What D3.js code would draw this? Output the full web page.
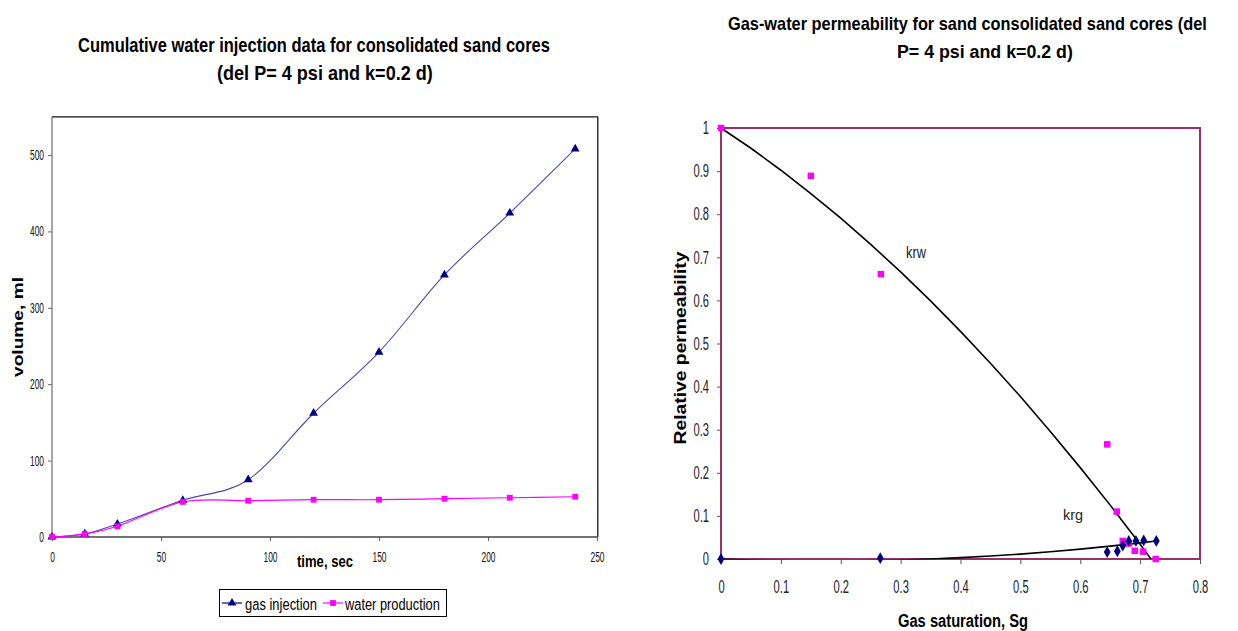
<!DOCTYPE html>
<html><head><meta charset="utf-8">
<script src="https://cdn.jsdelivr.net/npm/d3@7"></script>
<style>body{margin:0;background:#fff}svg{display:block}text{font-family:"Liberation Sans",Arial,Helvetica,sans-serif}</style>
</head><body>
<script>
// ---------- Left chart data ----------
const timeSec = [0, 15, 30, 60, 90, 120, 150, 180, 210, 240];
const gasInjection = [0, 4, 17, 48, 75, 162, 242, 343, 424, 508];
const waterProduction = [0, 4, 14, 46, 47.5, 48.8, 48.8, 50.1, 51.4, 52.7];
const volumeTicks = [0, 100, 200, 300, 400, 500];
const timeTicks = [0, 50, 100, 150, 200, 250];
const leftSeries = ["gas injection", "water production"];

// ---------- Right chart data ----------
const krwSg = [0, 0.15, 0.267, 0.645, 0.661, 0.671, 0.681, 0.691, 0.705, 0.726];
const krwVal = [1, 0.889, 0.661, 0.266, 0.110, 0.042, 0.036, 0.019, 0.017, 0.0];
const krgSg = [0, 0.266, 0.645, 0.662, 0.671, 0.681, 0.693, 0.706, 0.727];
const krgVal = [0, 0.002, 0.016, 0.018, 0.031, 0.042, 0.042, 0.043, 0.042];
// trend curves
const krwCurveSg = [0, 0.05, 0.1, 0.15, 0.2, 0.25, 0.3, 0.35, 0.4, 0.45, 0.5, 0.55, 0.6, 0.65, 0.7, 0.718];
const krwCurveVal = [1, 0.953, 0.902, 0.848, 0.791, 0.730, 0.666, 0.599, 0.528, 0.454, 0.377, 0.296, 0.212, 0.125, 0.034, 0.0003];
const krgCurveSg = [0, 0.05, 0.1, 0.15, 0.2, 0.25, 0.3, 0.35, 0.4, 0.45, 0.5, 0.55, 0.6, 0.65, 0.7, 0.727];
const krgCurveVal = [0, -0.0023, -0.0038, -0.0046, -0.0046, -0.0038, -0.0023, 0, 0.0031, 0.0069, 0.0114, 0.0168, 0.0229, 0.0298, 0.0374, 0.0418];
const relPermTicks = [0, 0.1, 0.2, 0.3, 0.4, 0.5, 0.6, 0.7, 0.8, 0.9, 1];
const sgTicks = [0, 0.1, 0.2, 0.3, 0.4, 0.5, 0.6, 0.7, 0.8];

const W = 1238, H = 631;
const svg = d3.select("body").append("svg").attr("width", W).attr("height", H);
svg.append("rect").attr("width", W).attr("height", H).attr("fill", "#fff");

function squeeze(sel, f) {
  sel.each(function () {
    const L = this.getComputedTextLength();
    d3.select(this).attr("textLength", L * f).attr("lengthAdjust", "spacingAndGlyphs");
  });
}
// horizontal text, compressed to a target width by a scale transform
function label(g, x, y, str, width, size, bold, fill) {
  const t = g.append("text").attr("font-size", size).attr("font-weight", bold ? "bold" : "normal")
    .attr("fill", fill || "#000").text(str);
  const L = t.node().getComputedTextLength();
  t.attr("transform", `translate(${x},${y}) scale(${width / L},1)`);
  return t;
}
function fitText(sel, len) {
  sel.attr("textLength", len).attr("lengthAdjust", "spacingAndGlyphs");
}

// ================= LEFT CHART =================
const xL = d3.scaleLinear().domain([0, 250]).range([52, 597]);
const yL = d3.scaleLinear().domain([0, 550]).range([537, 116.8]);

const L = svg.append("g");
label(L, 78, 51.5, "Cumulative water injection data for consolidated sand cores", 472, 20, true);
label(L, 217, 79.5, "(del P= 4 psi and k=0.2 d)", 216, 20, true);

// plot frame
L.append("line").attr("x1", xL(0)).attr("x2", xL(250) + 1).attr("y1", yL(550)).attr("y2", yL(550)).attr("stroke", "#111").attr("stroke-width", 1.2);
L.append("line").attr("x1", xL(250) + 0.5).attr("x2", xL(250) + 0.5).attr("y1", yL(550)).attr("y2", yL(0)).attr("stroke", "#333").attr("stroke-width", 1);
L.append("line").attr("x1", xL(250) + 1.5).attr("x2", xL(250) + 1.5).attr("y1", yL(550)).attr("y2", yL(0)).attr("stroke", "#999").attr("stroke-width", 1);

// axes
const yAxL = L.append("g").attr("transform", `translate(${xL(0)},0)`)
  .call(d3.axisLeft(yL).tickValues(volumeTicks).tickSize(4).tickPadding(4).tickFormat(d => String(d)));
const xAxL = L.append("g").attr("transform", `translate(0,${yL(0)})`)
  .call(d3.axisBottom(xL).tickValues(timeTicks).tickSize(4).tickPadding(11).tickFormat(d => String(d)));
[yAxL, xAxL].forEach(a => {
  a.select(".domain").remove();
  a.selectAll(".tick line").attr("stroke", "#666");
  a.selectAll(".tick text").attr("font-size", 14).attr("fill", "#111").attr("font-family", '"Liberation Sans",Arial,sans-serif');
  squeeze(a.selectAll(".tick text"), 0.6);
});
L.append("line").attr("x1", xL(0)).attr("x2", xL(0)).attr("y1", yL(550)).attr("y2", yL(0)).attr("stroke", "#777").attr("stroke-width", 1.3);
L.append("line").attr("x1", xL(0)).attr("x2", xL(250) + 1).attr("y1", yL(0)).attr("y2", yL(0)).attr("stroke", "#444").attr("stroke-width", 1.3);

// axis titles
fitText(L.append("text").attr("transform", `translate(23,327) scale(0.75,1) rotate(-90)`).attr("text-anchor", "middle")
  .attr("font-size", 19).attr("font-weight", "bold").text("volume, ml"), 100);
label(L, 297, 567, "time, sec", 56, 17, true);

// series
const smooth = d3.line().curve(d3.curveCatmullRom.alpha(0));
const gasPts = timeSec.map((t, i) => [xL(t), yL(gasInjection[i])]);
const watPts = timeSec.map((t, i) => [xL(t), yL(waterProduction[i])]);
L.append("path").attr("d", smooth(gasPts)).attr("fill", "none").attr("stroke", "#4a4aa6").attr("stroke-width", 1.1);
L.append("path").attr("d", smooth(watPts)).attr("fill", "none").attr("stroke", "#ff00ff").attr("stroke-width", 1.2);
const tri = d3.symbol().type(d3.symbolTriangle).size(34);
const sq = d3.symbol().type(d3.symbolSquare).size(34);
L.selectAll(".gm").data(gasPts).join("path").attr("d", tri).attr("transform", d => `translate(${d[0]},${d[1]})`).attr("fill", "#000080");
L.selectAll(".wm").data(watPts).join("path").attr("d", sq).attr("transform", d => `translate(${d[0]},${d[1]})`).attr("fill", "#ff00ff");

// legend
const lg = L.append("g");
lg.append("rect").attr("x", 219.5).attr("y", 589.5).attr("width", 227).attr("height", 27).attr("fill", "#fff").attr("stroke", "#000").attr("stroke-width", 1);
lg.append("line").attr("x1", 222).attr("x2", 242).attr("y1", 603).attr("y2", 603).attr("stroke", "#000080").attr("stroke-width", 1.2);
lg.append("path").attr("d", tri).attr("transform", "translate(232,603)").attr("fill", "#000080");
label(lg, 245, 609.5, leftSeries[0], 72, 17, false);
lg.append("line").attr("x1", 323).attr("x2", 343).attr("y1", 603).attr("y2", 603).attr("stroke", "#ff00ff").attr("stroke-width", 1.2);
lg.append("path").attr("d", sq).attr("transform", "translate(333,603)").attr("fill", "#ff00ff");
label(lg, 345, 609.5, leftSeries[1], 95, 17, false);

// ================= RIGHT CHART =================
const xR = d3.scaleLinear().domain([0, 0.8]).range([721, 1200]);
const yR = d3.scaleLinear().domain([0, 1]).range([559, 128]);
const R = svg.append("g");

label(R, 728, 30, "Gas-water permeability for sand consolidated sand cores (del", 479, 19, true);
label(R, 897, 58, "P= 4 psi and k=0.2 d)", 176, 19, true);

const yAxR = R.append("g").attr("transform", `translate(${xR(0)},0)`)
  .call(d3.axisLeft(yR).tickValues(relPermTicks).tickSize(4).tickPadding(8).tickFormat(d => String(d)));
const xAxR = R.append("g").attr("transform", `translate(0,${yR(0)})`)
  .call(d3.axisBottom(xR).tickValues(sgTicks).tickSize(5).tickPadding(16).tickFormat(d => String(d)));
[yAxR, xAxR].forEach(a => {
  a.select(".domain").remove();
  a.selectAll(".tick line").attr("stroke", "#555");
  a.selectAll(".tick text").attr("font-size", 18).attr("fill", "#222").attr("font-family", '"Liberation Sans",Arial,sans-serif');
  squeeze(a.selectAll(".tick text"), 0.62);
});

// frame
R.append("rect").attr("x", xR(0)).attr("y", yR(1)).attr("width", xR(0.8) - xR(0)).attr("height", yR(0) - yR(1))
  .attr("fill", "none").attr("stroke", "#993366").attr("stroke-width", 2);

// trend curves (clipped to plot area)
R.append("clipPath").attr("id", "clipR").append("rect").attr("x", xR(0) - 1).attr("y", yR(1) - 1)
  .attr("width", xR(0.8) - xR(0) + 2).attr("height", yR(0) - yR(1) + 1.5);
const lineR = d3.line().curve(d3.curveLinear);
const cg = R.append("g").attr("clip-path", "url(#clipR)");
cg.append("path").attr("d", lineR(krwCurveSg.map((s, i) => [xR(s), yR(krwCurveVal[i])])))
  .attr("fill", "none").attr("stroke", "#000").attr("stroke-width", 1.6);
cg.append("path").attr("d", lineR(krgCurveSg.map((s, i) => [xR(s), yR(krgCurveVal[i])])))
  .attr("fill", "none").attr("stroke", "#000").attr("stroke-width", 1.6);

// points
const dia = d3.symbol().type(d3.symbolDiamond).size(40);
const sqR = d3.symbol().type(d3.symbolSquare).size(42);
R.selectAll(".kw").data(krwSg.map((s, i) => [xR(s), yR(krwVal[i])])).join("path")
  .attr("d", sqR).attr("transform", d => `translate(${d[0]},${d[1]})`).attr("fill", "#ff00ff");
R.selectAll(".kg").data(krgSg.map((s, i) => [xR(s), yR(krgVal[i])])).join("path")
  .attr("d", dia).attr("transform", d => `translate(${d[0]},${d[1]})`).attr("fill", "#000080");

// curve labels
label(R, 906, 258, "krw", 20, 16, false, "#222");
label(R, 1063, 520, "krg", 20, 15, false, "#222");

// axis titles
fitText(R.append("text").attr("transform", `translate(686,348) scale(0.88,1) rotate(-90)`).attr("text-anchor", "middle")
  .attr("font-size", 19).attr("font-weight", "bold").text("Relative permeability"), 193);
label(R, 898, 627, "Gas saturation, Sg", 130, 19, true);
</script>
</body></html>
